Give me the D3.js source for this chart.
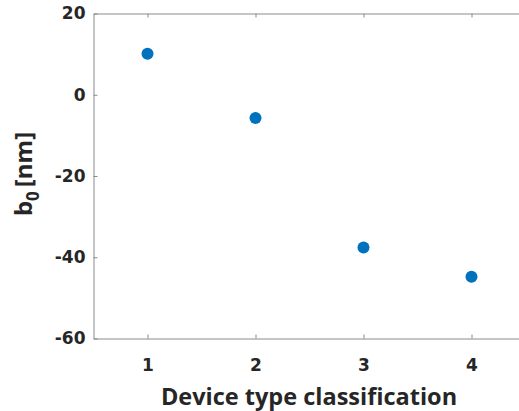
<!DOCTYPE html>
<html>
<head>
<meta charset="utf-8">
<script src="https://cdn.jsdelivr.net/npm/d3@7"></script>
<style>
  html, body { margin: 0; padding: 0; background: #fff; overflow: hidden; }
  svg { display: block; }
  .tick text { font-family: "DejaVu Sans", Verdana, sans-serif; font-weight: bold; font-size: 17px; fill: #262626; }
  .title { font-family: "Open Sans", "Liberation Sans", Arial, sans-serif; font-weight: bold; font-size: 23.5px; fill: #262626; }
</style>
</head>
<body>
<svg id="chart" width="519" height="411"></svg>
<script>
// Device type classification vs. fitted offset b0
const deviceTypes = [1, 2, 3, 4];
const b0Values = [10.1, -5.7, -37.6, -44.8];
const xTicks = [1, 2, 3, 4];
const yTicks = [-60, -40, -20, 0, 20];

const svg = d3.select("#chart");
const margin = { left: 93.5, top: 13.5, bottom: 338.5, right: 525.5 };

const x = d3.scaleLinear().domain([0.5, 4.5]).range([margin.left, margin.right]);
const y = d3.scaleLinear().domain([-60, 20]).range([margin.bottom, margin.top]);

const axisColor = "#8a8a8a";
const tickLen = 4;
const plainInt = d => String(d);   // plain hyphen for negatives

// bottom axis (inward ticks)
const gx = svg.append("g").attr("transform", `translate(0,${margin.bottom})`)
  .call(d3.axisBottom(x).tickValues(xTicks).tickFormat(plainInt).tickSizeInner(-tickLen).tickSizeOuter(0).tickPadding(20));
// top axis line with ticks, no labels
const gxt = svg.append("g").attr("transform", `translate(0,${margin.top})`)
  .call(d3.axisTop(x).tickValues(xTicks).tickFormat("").tickSizeInner(-tickLen).tickSizeOuter(0));
// left axis
const gy = svg.append("g").attr("transform", `translate(${margin.left},0)`)
  .call(d3.axisLeft(y).tickValues(yTicks).tickFormat(plainInt).tickSizeInner(-tickLen).tickSizeOuter(0).tickPadding(8));

[gx, gxt, gy].forEach(g => {
  g.selectAll(".domain").attr("stroke", axisColor).attr("stroke-width", 1);
  g.selectAll(".tick line").attr("stroke", axisColor).attr("stroke-width", 1);
  g.selectAll(".tick text").attr("font-family", null).attr("font-size", null);
});

// markers
svg.append("g").selectAll("circle")
  .data(deviceTypes.map((d, i) => ({ t: d, v: b0Values[i] })))
  .join("circle")
  .attr("cx", d => x(d.t))
  .attr("cy", d => y(d.v))
  .attr("r", 6)
  .attr("fill", "#0072BD");

// axis titles
svg.append("text")
  .attr("class", "title")
  .attr("x", 309).attr("y", 405)
  .attr("text-anchor", "middle")
  .text("Device type classification");

const yl = svg.append("text")
  .attr("class", "title")
  .attr("transform", "translate(32,174) rotate(-90)")
  .attr("text-anchor", "middle")
  .style("font-size", "24px");
yl.append("tspan").text("b");
yl.append("tspan").style("font-size", "17px").attr("dy", 7).text("0");
yl.append("tspan").attr("dy", -7).text("\u2009[nm]");
</script>
</body>
</html>
